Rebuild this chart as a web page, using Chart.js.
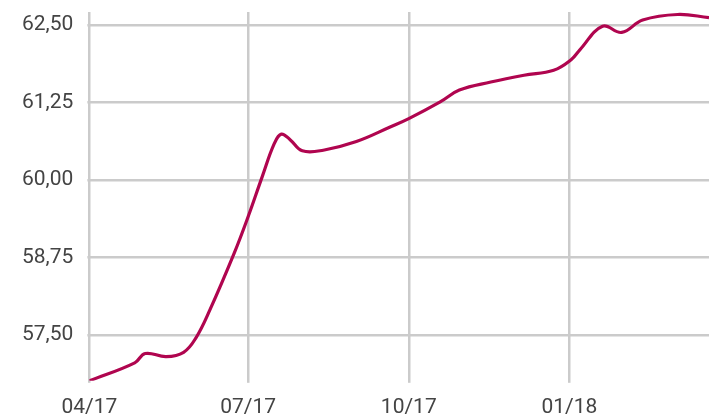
<!DOCTYPE html>
<html>
<head>
<meta charset="utf-8">
<script src="https://cdn.jsdelivr.net/npm/chart.js@4/dist/chart.umd.min.js"></script>
<style>
  html, body { margin: 0; padding: 0; background: #fff; }
  #wrap { width: 709px; height: 417px; position: relative; }
</style>
</head>
<body>
<div id="wrap"><canvas id="kurs"></canvas></div>
<script>
// Tage seit 01.04.2017 und Werte
const days = [0, 26, 32, 44, 54, 61, 69, 83, 91, 99, 106, 110, 115, 122, 134, 153, 172, 183, 201, 212, 230, 249, 266, 276, 281, 294, 305, 317, 337, 355];
const values = [56.76, 57.05, 57.20, 57.15, 57.22, 57.45, 57.90, 58.82, 59.41, 60.05, 60.59, 60.74, 60.65, 60.47, 60.48, 60.62, 60.85, 60.99, 61.26, 61.45, 61.58, 61.69, 61.77, 61.94, 62.10, 62.48, 62.38, 62.58, 62.67, 62.62];

const tickDays = [0, 91, 183, 275];
const tickLabels = ['04/17', '07/17', '10/17', '01/18'];
const yTicks = [57.5, 58.75, 60, 61.25, 62.5];

const points = days.map((d, i) => ({ x: d, y: values[i] }));

document.addEventListener('DOMContentLoaded', () => {
    const ctx = document.getElementById('kurs').getContext('2d');
    new Chart(ctx, {
        type: 'line',
        data: {
            datasets: [{
                data: points,
                borderColor: '#b0054f',
                borderWidth: 3.2,
                pointRadius: 0,
                tension: 0.4,
                fill: false
            }]
        },
        options: {
            responsive: true,
            maintainAspectRatio: false,
            animation: false,
            layout: { padding: { left: 8, top: 12, right: 0, bottom: -15 } },
            plugins: { legend: { display: false }, tooltip: { enabled: false } },
            scales: {
                x: {
                    type: 'linear',
                    min: 0,
                    max: 355,
                    afterBuildTicks: axis => { axis.ticks = tickDays.map(v => ({ value: v })); },
                    grid: { color: '#cbcbcb', lineWidth: 2.5, tickLength: 2 },
                    border: { display: false },
                    ticks: {
                        autoSkip: false,
                        maxRotation: 0,
                        padding: 12,
                        color: '#444',
                        font: { family: 'Roboto', size: 21 },
                        callback: v => tickLabels[tickDays.indexOf(v)] ?? ''
                    }
                },
                y: {
                    min: 56.76,
                    max: 62.71,
                    afterBuildTicks: axis => { axis.ticks = yTicks.map(v => ({ value: v })); },
                    afterFit: axis => { axis.paddingTop = 0; axis.paddingBottom = 0; },
                    grid: { color: '#cbcbcb', lineWidth: 2.5, tickLength: 2 },
                    border: { display: false },
                    ticks: {
                        padding: 14,
                        color: '#444',
                        font: { family: 'Roboto', size: 21 },
                        callback: v => v.toFixed(2).replace('.', ',')
                    }
                }
            }
        }
    });
});
</script>
</body>
</html>
